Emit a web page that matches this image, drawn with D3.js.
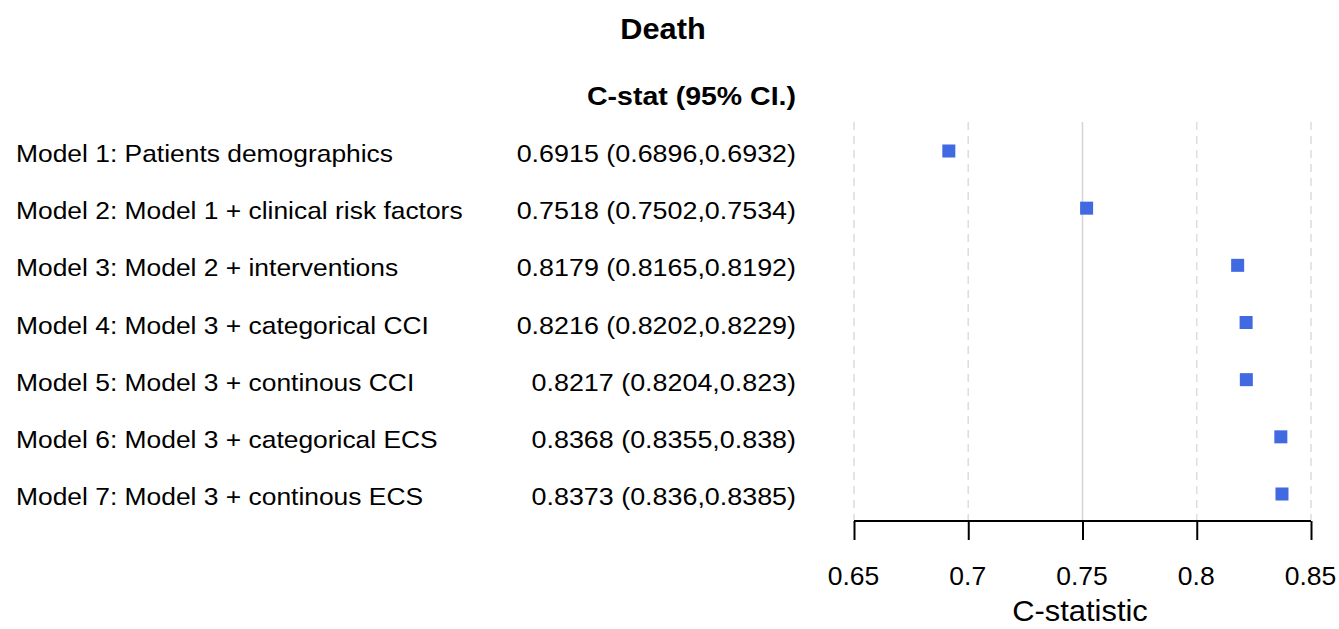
<!DOCTYPE html>
<html>
<head>
<meta charset="utf-8">
<script src="https://cdn.jsdelivr.net/npm/d3@7"></script>
<style>
  body { margin: 0; background: #fff; }
  text { font-family: "Liberation Sans", Arial, sans-serif; fill: #000; }
</style>
</head>
<body>
<div id="chart"></div>
<script>
// forest plot - C statistic per model

const models = [
    'Model 1: Patients demographics',
    'Model 2: Model 1 + clinical risk factors',
    'Model 3: Model 2 + interventions',
    'Model 4: Model 3 + categorical CCI',
    'Model 5: Model 3 + continous CCI',
    'Model 6: Model 3 + categorical ECS',
    'Model 7: Model 3 + continous ECS'
];
const cstat = [0.6915, 0.7518, 0.8179, 0.8216, 0.8217, 0.8368, 0.8373];
const lower = [0.6896, 0.7502, 0.8165, 0.8202, 0.8204, 0.8355, 0.836];
const upper = [0.6932, 0.7534, 0.8192, 0.8229, 0.823, 0.838, 0.8385];
const ticks = [0.65, 0.7, 0.75, 0.8, 0.85];
const refLine = 0.75;

const width = 1339, height = 629;
const sx = 1.1; // text in the original looks a bit wide

const svg = d3.select('#chart')
    .append('svg')
    .attr('width', width)
    .attr('height', height);

const x = d3.scaleLinear().domain([0.65, 0.85]).range([854, 1311]);
const y = d3.scalePoint().domain(models).range([151, 494]);

// helper for stretched text
function label(g, tx, ty, str, size, anchor, weight, stretch) {
    return g.append('text')
        .attr('transform', `translate(${tx},${ty}) scale(${stretch || sx},1)`)
        .attr('text-anchor', anchor)
        .attr('font-size', size)
        .attr('font-weight', weight || 'normal')
        .text(str);
}

// title + column header
label(svg, 663, 39, 'Death', 29, 'middle', 'bold', 1.06);
label(svg, 796, 105, 'C-stat (95% CI.)', 25, 'end', 'bold', 1.14);

// grid lines
const grid = svg.append('g');
grid.selectAll('line')
    .data(ticks)
    .join('line')
    .attr('x1', d => x(d)).attr('x2', d => x(d))
    .attr('y1', 122).attr('y2', 520)
    .attr('stroke', d => d === refLine ? '#d4d4d4' : '#dedede')
    .attr('stroke-width', d => d === refLine ? 1.5 : 1.6)
    .attr('stroke-dasharray', d => d === refLine ? null : '8,6');

// row text
const rows = svg.append('g');
models.forEach((m, i) => {
    label(rows, 16, y(m) + 11, m, 24, 'start', 'normal', 1.1);
    label(rows, 796, y(m) + 11, `${cstat[i]} (${lower[i]},${upper[i]})`, 24, 'end', 'normal', 1.12);
});

// CI whiskers (mostly hidden behind boxes)
svg.append('g').selectAll('line')
    .data(models)
    .join('line')
    .attr('x1', (d, i) => x(lower[i]))
    .attr('x2', (d, i) => x(upper[i]))
    .attr('y1', d => y(d)).attr('y2', d => y(d))
    .attr('stroke', '#4169e1')
    .attr('stroke-width', 1.5);

// boxes
const box = 13;
svg.append('g').selectAll('rect')
    .data(models)
    .join('rect')
    .attr('x', (d, i) => x(cstat[i]) - box / 2)
    .attr('y', d => y(d) - box / 2)
    .attr('width', box)
    .attr('height', box)
    .attr('fill', '#4169e1');

// x axis
const axis = svg.append('g')
    .attr('transform', 'translate(0,521)')
    .call(d3.axisBottom(x).tickValues(ticks).tickSize(19).tickPadding(0).tickFormat(d => d));
axis.select('.domain').attr('stroke', '#000').attr('stroke-width', 2)
    .attr('d', `M${x(0.65)},0H${x(0.85)}`);
axis.selectAll('.tick line').attr('stroke', '#000').attr('stroke-width', 2);
axis.selectAll('.tick text').remove();
axis.selectAll('.tick').each(function(d) {
    label(d3.select(this), -1, 64, d, 26, 'middle', 'normal', 1.02);
});

label(svg, 1080, 621, 'C-statistic', 30, 'middle', 'normal', 1.03);
</script>
</body>
</html>
